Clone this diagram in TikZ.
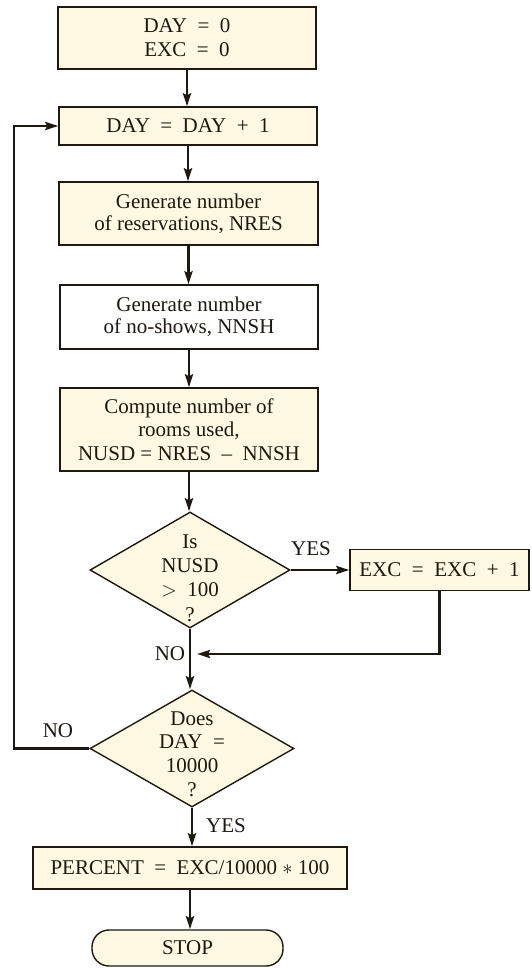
\documentclass[tikz,border=0pt]{standalone}
\usepackage{fontspec}
\setmainfont{Liberation Serif}
\usetikzlibrary{arrows.meta,shapes.geometric}
\definecolor{cream}{RGB}{255,248,226}
\definecolor{ink}{RGB}{30,24,16}
\begin{document}
\begin{tikzpicture}[x=1pt,y=-1pt,
  txt/.style={font=\fontsize{21}{23}\selectfont, text=ink, align=center, inner sep=0pt},
  proc/.style={txt, draw=ink, line width=1.4pt, fill=cream, rectangle},
  dec/.style={draw=ink, line width=1.4pt, fill=cream, diamond, inner sep=0pt},
  term/.style={txt, draw=ink, line width=1.4pt, fill=cream, rectangle, rounded corners=17pt},
  arr/.style={draw=ink, line width=2.6pt, -{Stealth[length=13pt,width=8pt,inset=2pt]}},
  lbl/.style={font=\fontsize{21}{23}\selectfont, text=ink, inner sep=0pt}
]
\useasboundingbox (0,0) rectangle (531,968);

\node[proc, minimum width=258pt, minimum height=62pt, font=\fontsize{21}{24}\selectfont] (b1) at (187,38)
  {DAY\ \ =\ \ 0\\EXC\ \ =\ \ 0};
\node[proc, minimum width=258pt, minimum height=38pt] (b2) at (188,126)
  {DAY\ \ =\ \ DAY\ \ +\ \ 1};
\node[proc, minimum width=259pt, minimum height=63pt, font=\fontsize{21}{22}\selectfont] (b3) at (188.5,213.5)
  {Generate number\\of reservations, NRES};
\node[proc, fill=white, minimum width=258pt, minimum height=64pt, font=\fontsize{21}{21.5}\selectfont] (b4) at (189,317)
  {Generate number\\of no-shows, NNSH};
\node[proc, minimum width=258pt, minimum height=83pt, font=\fontsize{21}{23.5}\selectfont] (b5) at (189,429.5)
  {Compute number of\\rooms used,\\NUSD = NRES\ \ –\ \ NNSH};

\node[dec, minimum width=200pt, minimum height=116pt] (d1) at (190,570) {};
\node[txt, font=\fontsize{21}{24.3}\selectfont] (d1t) at (190,578) {Is\\NUSD\\$>$\ \ 100\\?};

\node[proc, minimum width=179pt, minimum height=41pt] (exc) at (439.5,570)
  {EXC\ \ =\ \ EXC\ \ +\ \ 1};

\node[dec, minimum width=204pt, minimum height=117pt] (d2) at (192,748.5) {};
\node[txt, font=\fontsize{21}{23.7}\selectfont] (d2t) at (192,754) {Does\\DAY\ \ =\\10000\\?};

\node[proc, minimum width=314pt, minimum height=42pt] (pc) at (190,868)
  {PERCENT\ \ =\ \ EXC/10000 $*$ 100};
\node[term, minimum width=191pt, minimum height=36pt] (stop) at (187.5,948) {STOP};

% connectors
\draw[arr] (b1.south) -- (b1.south |- b2.north);
\draw[arr] (b2.south) -- (b2.south |- b3.north);
\draw[arr] (b3.south) -- (b3.south |- b4.north);
\draw[arr] (b4.south) -- (b4.south |- b5.north);
\draw[arr] (b5.south) -- (b5.south |- d1.north);
\draw[arr] (d1.east) -- (d1.east -| exc.west);
\coordinate (merge) at (197,654);
\draw[arr] (exc.south) |- (merge);
\draw[arr] (d1.south) -- (d1.south |- d2.north);
\coordinate (lp) at (14,0);
\draw[arr] (d2.west) -- (d2.west -| lp) |- (b2.west);
\draw[arr] (d2.south) -- (d2.south |- pc.north);
\draw[arr] (pc.south) -- (pc.south |- stop.north);

% labels
\node[lbl] (yes1) at (311,549) {YES};
\node[lbl] (no1) at (170,654) {NO};
\node[lbl] (no2) at (58,731) {NO};
\node[lbl] (yes2) at (226,826) {YES};
\end{tikzpicture}
\end{document}
